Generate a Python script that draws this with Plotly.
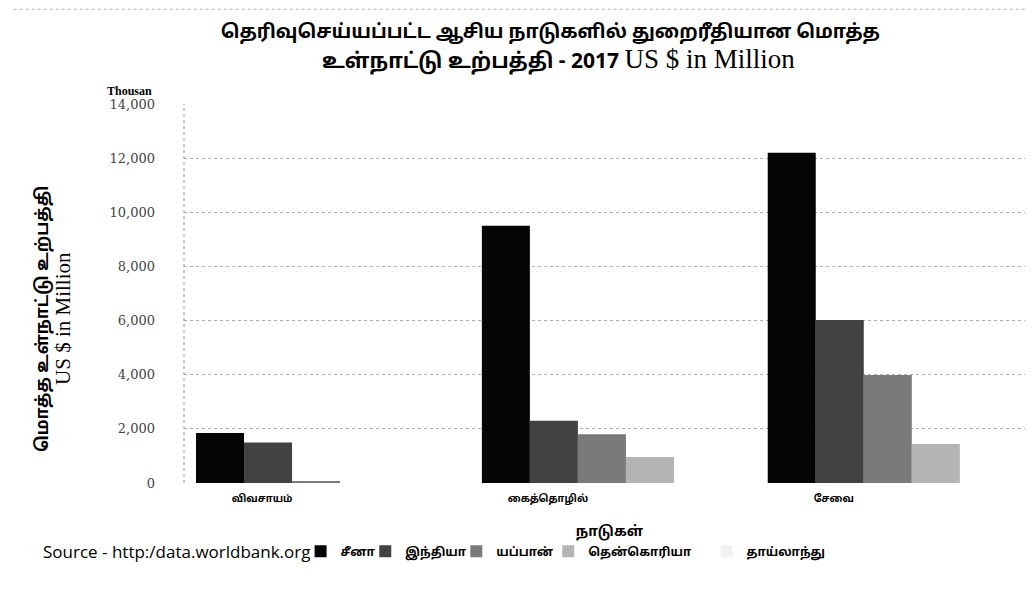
import plotly.graph_objects as go

categories = ["விவசாயம்", "கைத்தொழில்", "சேவை"]
countries = ["சீனா", "இந்தியா", "யப்பான்", "தென்கொரியா", "தாய்லாந்து"]
china = [1850, 9500, 12200]
india = [1500, 2300, 6020]
japan = [60, 1800, 3990]
korea = [0, 960, 1440]
thailand = [0, 0, 0]
y_ticks = [0, 2000, 4000, 6000, 8000, 10000, 12000, 14000]

series = [china, india, japan, korea, thailand]
colors = ["#050505", "#424242", "#7a7a7a", "#b4b4b4", "#f2f2f2"]
legend_x = [0.137, 0.213, 0.320, 0.428, 0.614]

fig = go.Figure()
for i, (name, vals) in enumerate(zip(countries, series)):
    lg = "legend" if i == 0 else f"legend{i+1}"
    fig.add_trace(go.Bar(
        x=[f"<b>{c}</b>" for c in categories], y=vals, name=f"<b>{name}</b>",
        marker=dict(color=colors[i], line=dict(width=0)),
        legend=lg,
    ))

serif = "Liberation Serif"
tamil = "Noto Sans Tamil, Lato, sans-serif"

layout_legends = {}
for i in range(5):
    key = "legend" if i == 0 else f"legend{i+1}"
    layout_legends[key] = dict(
        x=legend_x[i], y=-0.18, xanchor="left", yanchor="middle",
        orientation="h", bgcolor="rgba(0,0,0,0)",
        font=dict(size=12, color="#000", family=tamil),
        itemwidth=30,
    )

fig.update_layout(
    width=1033, height=600,
    margin=dict(l=176, r=6, t=96, b=125),
    paper_bgcolor="white", plot_bgcolor="white",
    barmode="group", bargap=0.16, bargroupgap=0,
    title=dict(
        text="<b>தெரிவுசெய்யப்பட்ட ஆசிய நாடுகளில் துறைரீதியான மொத்த</b>",
        x=0.525, xanchor="center", xref="container",
        y=0.972, yanchor="top", yref="container",
        font=dict(size=19, color="#000", family=tamil),
    ),
    xaxis=dict(
        range=[-0.462, 2.515],
        tickfont=dict(size=10, color="#000", family=tamil),
        ticklabelshift=-54, ticklabelstandoff=8,
        showline=False, showgrid=False, ticks="",
        title=dict(text="<b>நாடுகள்</b>", font=dict(size=14, color="#000", family=tamil), standoff=21),
    ),
    yaxis=dict(
        range=[0, 14000], tickvals=y_ticks, tickformat=",",
        tickfont=dict(size=13, color="#444", family="DejaVu Serif"),
        showgrid=True, gridcolor="#b0b0b0", griddash="dot", gridwidth=1,
        zeroline=False,
        showline=False, ticks="", ticklabelstandoff=28,
    ),
    showlegend=True,
    **layout_legends,
)

fig.add_annotation(
    text="<b>உள்நாட்டு உற்பத்தி - 2017</b> "
         "<span style='font-family:Liberation Serif;font-size:27px'>US $ in Million</span>",
    xref="paper", yref="paper", x=0.44, y=1.116, xanchor="center", yanchor="middle",
    showarrow=False, font=dict(size=21, color="#000", family=tamil),
)
fig.add_annotation(
    text="<b>மொத்த உள்நாட்டு உற்பத்தி</b><br>"
         "<span style='font-family:Liberation Serif;font-size:21px'>US $ in Million</span>",
    xref="paper", yref="paper", x=-0.153, y=0.435, xanchor="center", yanchor="middle",
    textangle=-90, showarrow=False, font=dict(size=17, color="#000", family=tamil),
)
fig.add_annotation(
    text="<b>Thousan</b>", xref="paper", yref="paper",
    x=-0.035, y=1.005, xanchor="right", yanchor="bottom", yshift=2, showarrow=False,
    font=dict(size=12, color="#000", family=serif),
)
fig.add_annotation(
    text="Source - http:/data.worldbank.org", xref="paper", yref="paper",
    x=-0.168, y=-0.18, xanchor="left", yanchor="middle", showarrow=False,
    font=dict(size=17, color="#000", family="Open Sans, sans-serif"),
)
# dotted left axis line and dotted outer frame
fig.add_shape(type="line", xref="paper", yref="paper", x0=0, x1=0, y0=0, y1=1,
              line=dict(color="#909090", width=1, dash="dot"))
fig.add_shape(type="line", xref="paper", yref="paper", x0=1, x1=1, y0=0, y1=1.25,
              line=dict(color="#b0b0b0", width=1, dash="dot"))
fig.add_shape(type="line", xref="paper", yref="paper", x0=-0.2, x1=1, y0=1.25, y1=1.25,
              line=dict(color="#b0b0b0", width=1, dash="dot"))

fig.write_html("out.html")
